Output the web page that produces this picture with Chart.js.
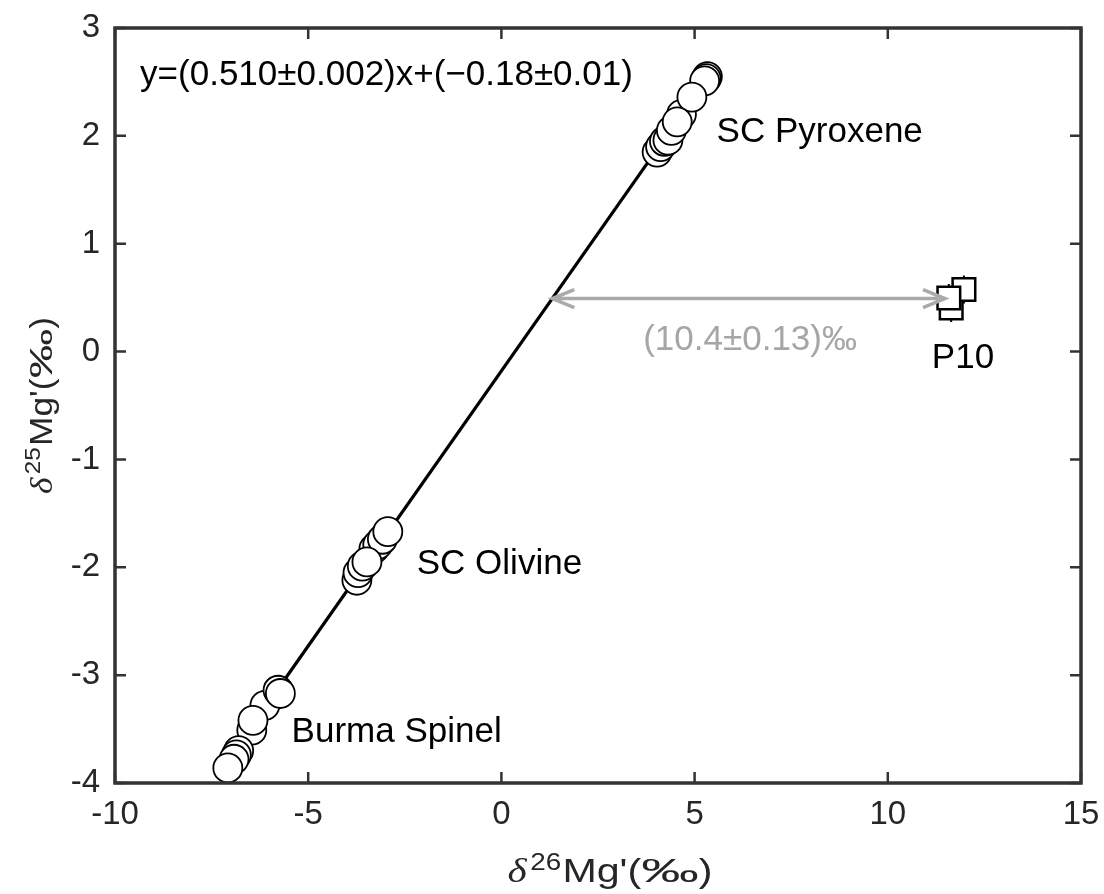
<!DOCTYPE html>
<html>
<head>
<meta charset="utf-8">
<script src="https://cdn.jsdelivr.net/npm/chart.js@4.4.1/dist/chart.umd.min.js"></script>
<style>
html, body { margin: 0; padding: 0; background: #fff; }
#wrap { width: 1104px; height: 894px; }
</style>
</head>
<body>
<div id="wrap"><canvas id="chart"></canvas></div>
<script>
const FONT = '"Liberation Sans", Arial, Helvetica, sans-serif';

// axis ranges / ticks
const xMin = -10, xMax = 15, xStep = 5;
const yMin = -4, yMax = 3, yStep = 1;

// SC pyroxene
const pyxX = [5.33, 5.30, 5.26, 4.03, 4.12, 4.22, 4.31, 4.40, 4.66, 4.93, 4.55];
const pyxY = [2.55, 2.53, 2.51, 1.85, 1.90, 1.95, 1.96, 2.05, 2.20, 2.36, 2.13];
// SC olivine
const olX = [-3.74, -3.71, -3.60, -3.30, -3.20, -3.08, -2.94, -3.48];
const olY = [-2.12, -2.05, -1.99, -1.83, -1.79, -1.74, -1.67, -1.95];
// Burma spinel
const spX = [-6.12, -5.78, -5.72, -6.46, -6.43, -6.80, -6.86, -6.92, -7.08];
const spY = [-3.28, -3.14, -3.17, -3.51, -3.42, -3.70, -3.74, -3.78, -3.86];
// P10 with 1-sigma errors on y
const p10X = [11.64, 11.97, 11.58];
const p10Y = [0.404, 0.576, 0.497];
const p10Err = [0.13, 0.13, 0.13];

// regression line
const slope = 0.510, intercept = -0.18;
const fitFrom = -7.1, fitTo = 5.3;

// offset arrow between the line and P10
const arrowY = 0.492;
const arrowTo = 11.48;

const eqText = 'y=(0.510\u00b10.002)x+(\u22120.18\u00b10.01)';
const labels = [
  {text: 'SC Pyroxene', x: 5.57, y: 1.943, color: '#000'},
  {text: 'SC Olivine', x: -2.19, y: -2.062, color: '#000'},
  {text: 'Burma Spinel', x: -5.43, y: -3.617, color: '#000'},
  {text: 'P10', x: 11.14, y: -0.155, color: '#000'},
  {text: '(10.4\u00b10.13)\u2030', x: 3.67, y: 0.015, color: '#a6a6a6'},
  {text: eqText, x: -9.35, y: 2.472, color: '#000'}
];

const toPts = (xs, ys) => xs.map((x, i) => ({x: x, y: ys[i]}));

function circleSet(xs, ys) {
  return {
    type: 'scatter',
    data: toPts(xs, ys),
    pointStyle: 'circle',
    pointRadius: 14.5,
    pointHoverRadius: 14.5,
    backgroundColor: '#fff',
    borderColor: '#000',
    borderWidth: 1.8,
    order: 1,
    clip: false
  };
}

// box + inward ticks on all four sides
const framePlugin = {
  id: 'frame',
  afterDatasetsDraw(chart) {
    const {ctx, chartArea: a, scales} = chart;
    const len = 11;
    ctx.save();
    ctx.strokeStyle = '#333';
    ctx.lineWidth = 2.5;
    ctx.beginPath();
    scales.x.ticks.forEach(t => {
      const px = scales.x.getPixelForValue(t.value);
      ctx.moveTo(px, a.bottom); ctx.lineTo(px, a.bottom - len);
      ctx.moveTo(px, a.top); ctx.lineTo(px, a.top + len);
    });
    scales.y.ticks.forEach(t => {
      const py = scales.y.getPixelForValue(t.value);
      ctx.moveTo(a.left, py); ctx.lineTo(a.left + len, py);
      ctx.moveTo(a.right, py); ctx.lineTo(a.right - len, py);
    });
    ctx.stroke();
    ctx.lineWidth = 3.5;
    ctx.strokeRect(a.left, a.top, a.right - a.left, a.bottom - a.top);
    ctx.restore();
  }
};

// error bars under the P10 squares
const errorBarPlugin = {
  id: 'errorBars',
  beforeDatasetsDraw(chart) {
    const {ctx, scales: {x, y}} = chart;
    ctx.save();
    ctx.strokeStyle = '#000';
    ctx.lineWidth = 2;
    ctx.beginPath();
    p10X.forEach((v, i) => {
      const px = x.getPixelForValue(v);
      ctx.moveTo(px, y.getPixelForValue(p10Y[i] - p10Err[i]));
      ctx.lineTo(px, y.getPixelForValue(p10Y[i] + p10Err[i]));
    });
    ctx.stroke();
    ctx.restore();
  }
};

// double-headed arrow and text labels
const notesPlugin = {
  id: 'notes',
  afterDatasetsDraw(chart) {
    const {ctx, scales: {x, y}} = chart;
    ctx.save();
    const x1 = x.getPixelForValue((arrowY - intercept) / slope);
    const x2 = x.getPixelForValue(arrowTo);
    const py = y.getPixelForValue(arrowY);
    ctx.strokeStyle = '#aaaaaa';
    ctx.lineWidth = 3.5;
    ctx.beginPath();
    ctx.moveTo(x1, py); ctx.lineTo(x2, py);
    ctx.moveTo(x1 + 22, py - 9); ctx.lineTo(x1, py); ctx.lineTo(x1 + 22, py + 9);
    ctx.moveTo(x2 - 22, py - 9); ctx.lineTo(x2, py); ctx.lineTo(x2 - 22, py + 9);
    ctx.stroke();

    ctx.font = '35px ' + FONT;
    ctx.textBaseline = 'alphabetic';
    ctx.textAlign = 'left';
    labels.forEach(l => {
      ctx.fillStyle = l.color;
      ctx.fillText(l.text, x.getPixelForValue(l.x), y.getPixelForValue(l.y));
    });
    ctx.restore();
  }
};

// δ^nMg'(‰) axis titles, stretched to the given width
function drawMgTitle(ctx, mass, cx, baseY, angle, size, width) {
  const parts = [
    {text: '\u03b4', font: 'italic ' + size + 'px "Liberation Serif", serif', dy: 0, sx: 1, gap: 3},
    {text: mass, font: Math.round(size * 0.68) + 'px ' + FONT, dy: -size * 0.36, sx: 1, gap: 1},
    {text: "Mg'(", font: size + 'px ' + FONT, dy: 0, sx: 1, gap: 0},
    {text: '\u2030', font: size + 'px ' + FONT, dy: 0, sx: 1.4, gap: 0},
    {text: ')', font: size + 'px ' + FONT, dy: 0, sx: 1, gap: 0}
  ];
  ctx.save();
  let total = 0;
  parts.forEach(p => {
    ctx.font = p.font;
    p.w = ctx.measureText(p.text).width * p.sx + p.gap;
    total += p.w;
  });
  const k = width / total;
  ctx.translate(cx, baseY);
  ctx.rotate(angle);
  ctx.scale(k, 1);
  ctx.fillStyle = '#262626';
  ctx.textBaseline = 'alphabetic';
  let px = -total / 2;
  parts.forEach(p => {
    ctx.save();
    ctx.font = p.font;
    ctx.translate(px, p.dy);
    ctx.scale(p.sx, 1);
    ctx.fillText(p.text, 0, 0);
    ctx.restore();
    px += p.w;
  });
  ctx.restore();
}

const titlesPlugin = {
  id: 'titles',
  afterDraw(chart) {
    const {ctx, chartArea: a} = chart;
    drawMgTitle(ctx, '26', (a.left + a.right) / 2 + 12, a.bottom + 99, 0, 34, 205);
    drawMgTitle(ctx, '25', 52, (a.top + a.bottom) / 2, -Math.PI / 2, 32, 177);
  }
};

new Chart(document.getElementById('chart'), {
  data: {
    datasets: [
      {
        type: 'line',
        data: [
          {x: fitFrom, y: slope * fitFrom + intercept},
          {x: fitTo, y: slope * fitTo + intercept}
        ],
        borderColor: '#000',
        borderWidth: 3.2,
        pointRadius: 0,
        fill: false,
        order: 2
      },
      circleSet(pyxX, pyxY),
      circleSet(olX, olY),
      circleSet(spX, spY),
      {
        type: 'scatter',
        data: toPts(p10X, p10Y),
        pointStyle: 'rect',
        pointRadius: 16,
        pointHoverRadius: 16,
        backgroundColor: '#fff',
        borderColor: '#000',
        borderWidth: 2.5,
        order: 1,
        clip: false
      }
    ]
  },
  options: {
    responsive: true,
    maintainAspectRatio: false,
    animation: false,
    events: [],
    layout: {padding: {left: 0, top: 28, right: 23, bottom: 0}},
    plugins: {legend: {display: false}, tooltip: {enabled: false}},
    scales: {
      x: {
        type: 'linear',
        min: xMin, max: xMax,
        ticks: {stepSize: xStep, color: '#262626', font: {family: FONT, size: 33}, padding: 12, maxRotation: 0},
        grid: {display: false, drawTicks: false},
        border: {display: false},
        afterFit(s) { s.height = 111; s.paddingLeft = 0; s.paddingRight = 0; }
      },
      y: {
        type: 'linear',
        min: yMin, max: yMax,
        ticks: {stepSize: yStep, color: '#262626', font: {family: FONT, size: 33}, padding: 15},
        grid: {display: false, drawTicks: false},
        border: {display: false},
        afterFit(s) { s.width = 115; s.paddingTop = 0; s.paddingBottom = 0; }
      }
    }
  },
  plugins: [errorBarPlugin, framePlugin, notesPlugin, titlesPlugin]
});
</script>
</body>
</html>
